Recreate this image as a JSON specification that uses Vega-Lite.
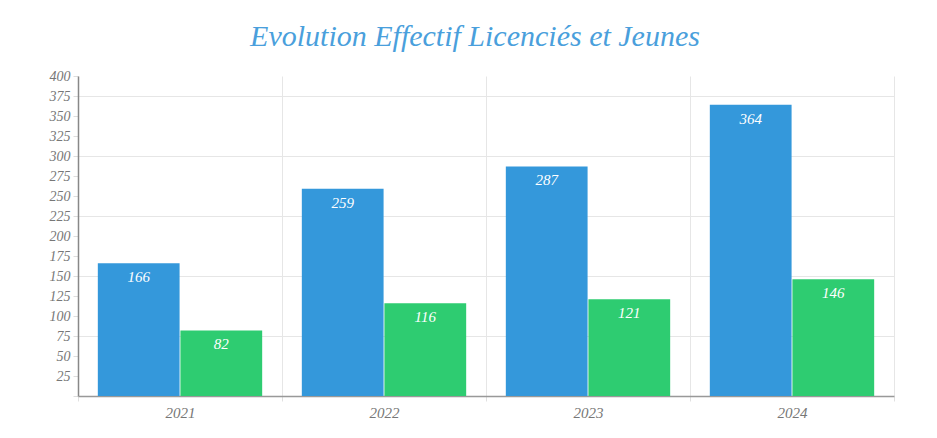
{
  "$schema": "https://vega.github.io/schema/vega-lite/v6.json",
  "width": 816,
  "height": 320,
  "autosize": {"type": "none"},
  "padding": {"left": 78, "top": 76, "right": 43, "bottom": 42},
  "background": "white",
  "title": {
    "text": "Evolution Effectif Licenciés et Jeunes",
    "font": "Liberation Serif",
    "fontStyle": "italic",
    "fontWeight": "normal",
    "fontSize": 30,
    "color": "#4a9fdc",
    "anchor": "middle",
    "dx": -11,
    "offset": 17
  },
  "data": {
    "values": [
      {"annee": "2021", "serie": "Licenciés", "valeur": 166},
      {"annee": "2021", "serie": "Jeunes", "valeur": 82},
      {"annee": "2022", "serie": "Licenciés", "valeur": 259},
      {"annee": "2022", "serie": "Jeunes", "valeur": 116},
      {"annee": "2023", "serie": "Licenciés", "valeur": 287},
      {"annee": "2023", "serie": "Jeunes", "valeur": 121},
      {"annee": "2024", "serie": "Licenciés", "valeur": 364},
      {"annee": "2024", "serie": "Jeunes", "valeur": 146}
    ]
  },
  "encoding": {
    "x": {
      "field": "annee",
      "type": "nominal",
      "title": null,
      "scale": {"paddingInner": 0, "paddingOuter": 0},
      "axis": {
        "tickBand": "extent",
        "grid": true,
        "gridColor": "#e6e6e6",
        "domainColor": "#999999",
        "domainWidth": 1.5,
        "tickColor": "#e0e0e0",
        "tickSize": 5,
        "labelAngle": 0,
        "labelFont": "Liberation Serif",
        "labelFontStyle": "italic",
        "labelFontSize": 15,
        "labelColor": "#777777",
        "labelPadding": 4
      }
    },
    "xOffset": {
      "field": "serie",
      "type": "nominal",
      "sort": ["Licenciés", "Jeunes"],
      "scale": {"paddingInner": 0.01, "paddingOuter": 0.24}
    },
    "y": {
      "field": "valeur",
      "type": "quantitative",
      "title": null,
      "scale": {"domain": [0, 400], "nice": false},
      "axis": {
        "values": [0, 25, 50, 75, 100, 125, 150, 175, 200, 225, 250, 275, 300, 325, 350, 375, 400],
        "labelExpr": "datum.value === 0 ? '' : datum.label",
        "grid": true,
        "gridColor": "#e6e6e6",
        "gridOpacity": {"condition": {"test": "datum.value > 0 && datum.value % 75 === 0", "value": 1}, "value": 0},
        "domainColor": "#888888",
        "domainWidth": 1.5,
        "tickColor": "#dddddd",
        "tickSize": 5,
        "labelFont": "Liberation Serif",
        "labelFontStyle": "italic",
        "labelFontSize": 14,
        "labelColor": "#777777",
        "labelPadding": 3
      }
    }
  },
  "layer": [
    {
      "mark": {"type": "bar"},
      "encoding": {
        "color": {
          "field": "serie",
          "type": "nominal",
          "scale": {"domain": ["Licenciés", "Jeunes"], "range": ["#3498db", "#2ecc71"]},
          "legend": null
        }
      }
    },
    {
      "mark": {
        "type": "text",
        "baseline": "top",
        "dy": 7,
        "font": "Liberation Serif",
        "fontStyle": "italic",
        "fontSize": 15,
        "color": "white"
      },
      "encoding": {
        "text": {"field": "valeur", "type": "quantitative"}
      }
    }
  ],
  "config": {
    "view": {"stroke": null}
  }
}
